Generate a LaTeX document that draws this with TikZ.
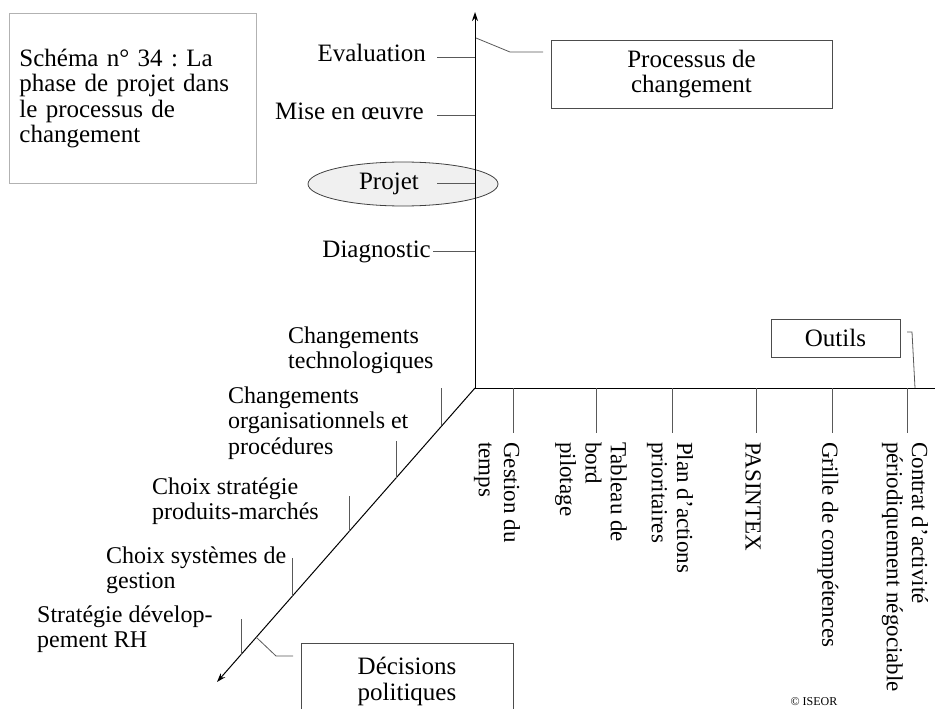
\documentclass[tikz,border=0pt]{standalone}
\usepackage{fontspec}
\setmainfont{Liberation Serif}
\usetikzlibrary{arrows.meta,shapes.geometric}
\begin{document}
\frenchspacing
\begin{tikzpicture}[x=1pt,y=-1pt,
  every node/.style={font=\fontsize{25}{25.3}\selectfont\frenchspacing, inner sep=0pt, text=black},
  axis/.style={draw=black, line width=1pt},
  axisarrow/.style={-{Stealth[length=9pt,width=6pt]}},
  tickline/.style={draw=black!65, line width=0.8pt},
  frame/.style={draw=black!70, line width=0.8pt},
  dlab/.style={font=\fontsize{24}{25.3}\selectfont\frenchspacing, align=left, anchor=west},
  rlab/.style={font=\fontsize{23}{25.3}\selectfont\frenchspacing, rotate=-90, anchor=west, align=left},
  vlab/.style={anchor=base east},
]
\useasboundingbox (0,0) rectangle (935,709);

% axes
\coordinate (O) at (475,388);
\coordinate (Ytop) at (475,12);
\coordinate (Xend) at (935,388);
\coordinate (Dend) at (217,682);

% Projet ellipse (behind)
\node[ellipse, draw=black!75, line width=0.8pt, fill=black!6, minimum width=190pt, minimum height=44pt] (projell) at (403,184) {};

\draw[axis,axisarrow] (O) -- (Ytop);
\draw[axis] (O) -- (Xend);
\draw[axis,axisarrow] (O) -- (Dend);

% title box
\node[draw=black!30, line width=0.8pt, anchor=north west, minimum width=247pt, minimum height=170pt,
      text width=227pt, inner xsep=10pt, align=left] (title) at (9,13)
  {Schéma n° 34 : La\\phase de projet dans\\le processus de\\changement};

% vertical axis ticks and labels
\coordinate (tE) at (437,57);   \coordinate (aE) at (475,57);
\coordinate (tM) at (437,115);  \coordinate (aM) at (475,115);
\coordinate (tP) at (437,183);  \coordinate (aP) at (475,183);
\coordinate (tD) at (433,251);  \coordinate (aD) at (475,251);
\draw[tickline] (tE) -- (aE);
\draw[tickline] (tM) -- (aM);
\draw[tickline] (tP) -- (aP);
\draw[tickline] (tD) -- (aD);
\node[vlab] (eval) at (426,62) {Evaluation};
\node[vlab] (mise) at (424,120) {Mise en œuvre};
\node[vlab] (projet) at (419,189) {Projet};
\node[vlab] (diag) at (431,257) {Diagnostic};

% Processus de changement
\node[frame, minimum width=281pt, minimum height=68pt, align=center] (proc) at (691.5,74) {Processus de\\changement};
\coordinate (pcA) at (476,38);
\coordinate (pcB) at (510,52);
\coordinate (pcC) at (543,52);
\draw[tickline] (pcA) -- (pcB) -- (pcC);

% Outils
\node[frame, minimum width=129pt, minimum height=38pt] (outils) at (835.5,338) {Outils};
\coordinate (ouA) at (907,332);
\coordinate (ouB) at (912,332);
\coordinate (ouC) at (915,388);
\draw[tickline] (ouA) -- (ouB) -- (ouC);

% horizontal axis ticks
\foreach \n/\x in {g/513, t/596, p/672, s/756, c/832, k/907}{
  \coordinate (h\n a) at (\x,388);
  \coordinate (h\n b) at (\x,433);
  \draw[tickline] (h\n a) -- (h\n b);
}
\node[rlab] (gestion) at (497,442) {Gestion du\\temps};
\node[rlab] (tableau) at (591,442) {Tableau de\\bord\\pilotage};
\node[rlab] (plan) at (670,442) {Plan d’actions\\prioritaires};
\node[rlab] (pasintex) at (753,442) {PASINTEX};
\node[rlab] (grille) at (828,442) {Grille de compétences};
\node[rlab] (contrat) at (905,442) {Contrat d’activité\\périodiquement négociable};

% diagonal axis ticks
\foreach \n/\x/\ya/\yb in {a/441/388/425, b/396/441/478, c/349/496/532, d/292/558/596, e/241/619/655}{
  \coordinate (d\n a) at (\x,\ya);
  \coordinate (d\n b) at (\x,\yb);
  \draw[tickline] (d\n a) -- (d\n b);
}
\node[dlab] (techno) at (288,350) {Changements\\technologiques};
\node[dlab] (orga) at (228,423) {Changements\\organisationnels et\\procédures};
\node[dlab] (prodm) at (152,501.5) {Choix stratégie\\produits-marchés};
\node[dlab] (sysg) at (106,570) {Choix systèmes de\\gestion};
\node[dlab] (rh) at (37,629.5) {Stratégie dévelop-\\pement RH};

% Décisions politiques
\node[frame, anchor=north, minimum width=212pt, minimum height=76pt, align=center] (decis) at (407,643) {Décisions\\politiques};
\coordinate (dpA) at (256,637);
\coordinate (dpB) at (276,656);
\coordinate (dpC) at (293,656);
\draw[tickline] (dpA) -- (dpB) -- (dpC);

% copyright
\node[font=\fontsize{12}{12}\selectfont] (iseor) at (814,702) {© ISEOR};
\end{tikzpicture}
\end{document}
